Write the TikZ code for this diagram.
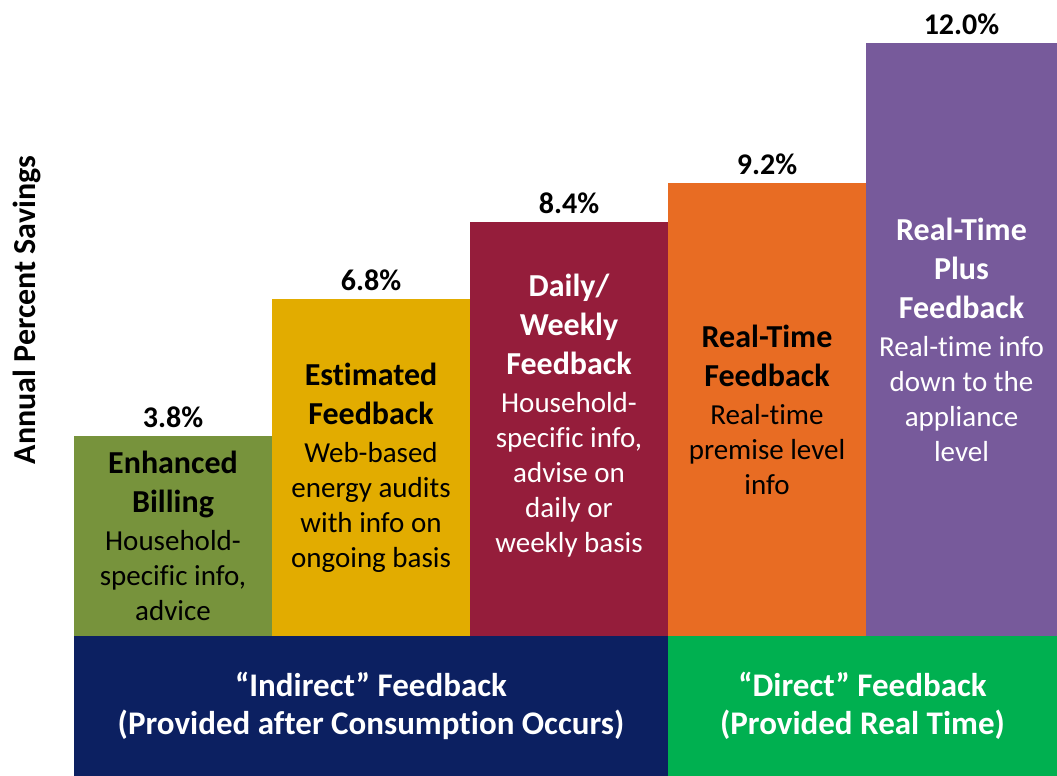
\documentclass[tikz,border=0pt]{standalone}
\usepackage{fontspec}
\setmainfont{Carlito}[Ligatures={TeX,NoCommon}]
\usetikzlibrary{positioning}

\definecolor{billgreen}{HTML}{77933C}
\definecolor{estyellow}{HTML}{E2AC00}
\definecolor{dailyred}{HTML}{951D3B}
\definecolor{rtorange}{HTML}{E86C23}
\definecolor{plusviolet}{HTML}{775A9B}
\definecolor{indirectblue}{HTML}{0C2061}
\definecolor{directgreen}{HTML}{00B050}

\newcommand\hd{\bfseries\fontsize{32}{39}\selectfont}

\tikzset{
  bar/.style={inner sep=0pt, outer sep=0pt, anchor=south west, minimum width=198pt},
  pct/.style={font=\bfseries\fontsize{30}{36}\selectfont, inner sep=0pt},
  desc/.style={align=center, font=\fontsize{29}{35}\selectfont, inner sep=0pt},
  grouptext/.style={align=center, text=white, font=\bfseries\fontsize{33}{38}\selectfont, inner sep=0pt}
}

\begin{document}
\begin{tikzpicture}[x=1pt,y=-1pt]
  \useasboundingbox (0,0) rectangle (1057,776);

  \node[rotate=90, inner sep=0pt, font=\bfseries\fontsize{32}{38}\selectfont] (axis) at (27,310) {Annual Percent Savings};

  \node[bar, fill=billgreen, minimum height=200pt] (billing) at (74,636) {};
  \node[bar, fill=estyellow, minimum height=337pt] (estimated) at (272,636) {};
  \node[bar, fill=dailyred, minimum height=414pt] (daily) at (470,636) {};
  \node[bar, fill=rtorange, minimum height=453pt] (realtime) at (668,636) {};
  \node[bar, fill=plusviolet, minimum width=191pt, minimum height=593pt] (plus) at (866,636) {};

  \node[pct, above=8pt of billing] (pbilling) {3.8\%};
  \node[pct, above=8pt of estimated] (pestimated) {6.8\%};
  \node[pct, above=8pt of daily] (pdaily) {8.4\%};
  \node[pct, above=8pt of realtime] (prealtime) {9.2\%};
  \node[pct, above=8pt of plus] (pplus) {12.0\%};

  \node[desc] (tbilling) at (billing.center)
    {{\hd Enhanced}\\[4pt]{\hd Billing}\\[3pt]Household-\\specific info,\\advice};
  \node[desc] (testimated) at (estimated.center)
    {{\hd Estimated}\\[4pt]{\hd Feedback}\\[3pt]Web-based\\energy audits\\with info on\\ongoing basis};
  \node[desc, text=white, yshift=13pt] (tdaily) at (daily.center)
    {{\hd Daily/}\\[4pt]{\hd Weekly}\\[4pt]{\hd Feedback}\\[3pt]Household-\\specific info,\\advise on\\daily or\\weekly basis};
  \node[desc] (trealtime) at (realtime.center)
    {{\hd Real-Time}\\[4pt]{\hd Feedback}\\[3pt]Real-time\\premise level\\info};
  \node[desc, text=white] (tplus) at (plus.center)
    {{\hd Real-Time}\\[4pt]{\hd Plus}\\[4pt]{\hd Feedback}\\[3pt]Real-time info\\down to the\\appliance\\level};

  \node[bar, fill=indirectblue, minimum width=594pt, minimum height=140pt] (indirect) at (74,776) {};
  \node[bar, fill=directgreen, minimum width=389pt, minimum height=140pt] (direct) at (668,776) {};
  \node[grouptext] (tindirect) at (indirect.center) {“Indirect” Feedback\\(Provided after Consumption Occurs)};
  \node[grouptext] (tdirect) at (direct.center) {“Direct” Feedback\\(Provided Real Time)};
\end{tikzpicture}
\end{document}
